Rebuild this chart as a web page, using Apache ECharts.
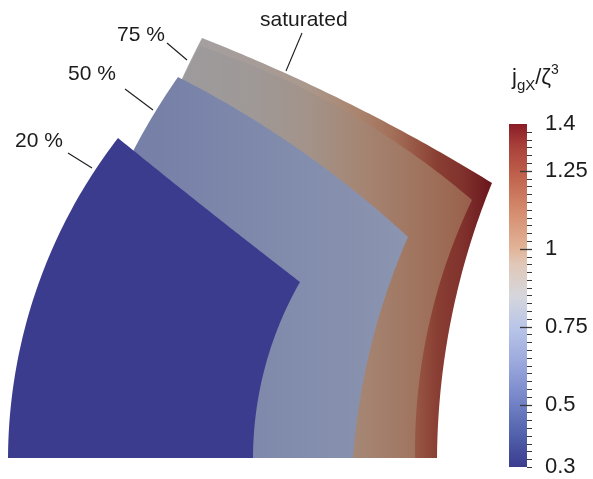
<!DOCTYPE html>
<html>
<head>
<meta charset="utf-8">
<script src="https://cdn.jsdelivr.net/npm/echarts@6/dist/echarts.min.js"></script>
<style>
  html, body { margin: 0; padding: 0; background: #ffffff; }
  #chart { width: 593px; height: 479px; }
</style>
</head>
<body>
<div id="chart"></div>
<script>
// Colour scale for j_gX/zeta^3: value -> colour
const scaleValues = [0.30, 0.40, 0.50, 0.625, 0.75, 0.85, 0.95, 1.00, 1.125, 1.25, 1.33, 1.40];
const scaleColors = ['#3b3c8e', '#5060aa', '#7080c4', '#98a6dc', '#bac6e8', '#d6d6dc',
                     '#e0c8b8', '#e2b498', '#d48a6c', '#bc5c48', '#a8403a', '#8a1c26'];
const barLabels = [0.3, 0.5, 0.75, 1, 1.25, 1.4];
const barMajorTicks = [0.5, 0.75, 1, 1.25];
const barMinorStep = 0.025;

// Field samples across each section: x position (section units) and j_gX/zeta^3
const x20  = [0.0, 1.0, 2.0, 2.92];
const j20  = [0.30, 0.30, 0.30, 0.30];
const x50  = [1.0, 1.5, 2.0, 2.5, 3.0, 3.5, 4.0];
const j50  = [0.63, 0.64, 0.66, 0.68, 0.70, 0.72, 0.74];
const x75  = [1.5, 2.0, 2.5, 3.0, 3.5, 4.0, 4.5, 4.64];
const j75  = [0.86, 0.87, 0.89, 0.94, 0.99, 1.05, 1.12, 1.15];
const xSat = [1.5, 2.0, 2.5, 3.0, 3.5, 3.85, 4.1, 4.3, 4.55, 4.85];
const jSat = [0.87, 0.88, 0.91, 0.95, 1.02, 1.10, 1.20, 1.28, 1.33, 1.40];

// Section outlines: outer arc, top edge, inner arc, each as [start, through, end]
const outline20  = [[[0.00, 0.00], [0.25, 1.58], [1.10, 3.20]],
                    [[1.10, 3.20], [2.01, 2.47], [2.92, 1.76]],
                    [[2.92, 1.76], [2.59, 0.98], [2.45, 0.00]]];
const outline50  = [[[0.50, 0.00], [0.69, 1.58], [1.70, 3.81]],
                    [[1.70, 3.81], [2.62, 3.28], [4.00, 2.21]],
                    [[4.00, 2.21], [3.62, 1.08], [3.45, 0.00]]];
const outline75  = [[[0.92, 0.00], [1.44, 3.08], [1.92, 4.12]],
                    [[1.92, 4.12], [3.32, 3.50], [4.64, 2.58]],
                    [[4.64, 2.58], [4.22, 1.38], [4.07, 0.00]]];
const outlineSat = [[[0.97, 0.00], [1.47, 3.13], [1.94, 4.20]],
                    [[1.94, 4.20], [3.32, 3.59], [4.84, 2.75]],
                    [[4.84, 2.75], [4.43, 1.38], [4.29, 0.00]]];

// Layer labels with their leader lines
const labelText  = ['20 %', '50 %', '75 %', 'saturated'];
const labelAt    = [[0.07, 3.17], [0.60, 3.84], [1.09, 4.23], [2.52, 4.38]];
const leaderFrom = [[0.60, 3.05], [1.17, 3.69], [1.59, 4.15], [2.94, 4.25]];
const leaderTo   = [[0.84, 2.90], [1.45, 3.48], [1.79, 3.98], [2.78, 3.87]];

// drawing order: back to front; shade = diffuse lighting of each face
const layers = [
  { outline: outlineSat, xs: xSat, field: jSat, shade: 0.76 },
  { outline: outline75,  xs: x75,  field: j75,  shade: 0.73 },
  { outline: outline50,  xs: x50,  field: j50,  shade: 0.76 },
  { outline: outline20,  xs: x20,  field: j20,  shade: 1.0 }
];

const FONT = '"Liberation Sans", Arial, Helvetica, sans-serif';
const TEXT = '#1c1c1c';
const TICK = '#3a3a3a';

function hexRgb(h) {
  return [parseInt(h.slice(1, 3), 16), parseInt(h.slice(3, 5), 16), parseInt(h.slice(5, 7), 16)];
}
const scaleRgb = scaleColors.map(hexRgb);

function colourOf(v) {
  if (v <= scaleValues[0]) return scaleRgb[0];
  const n = scaleValues.length;
  if (v >= scaleValues[n - 1]) return scaleRgb[n - 1];
  for (let i = 1; i < n; i++) {
    if (v <= scaleValues[i]) {
      const t = (v - scaleValues[i - 1]) / (scaleValues[i] - scaleValues[i - 1]);
      const a = scaleRgb[i - 1], b = scaleRgb[i];
      return [a[0] + (b[0] - a[0]) * t, a[1] + (b[1] - a[1]) * t, a[2] + (b[2] - a[2]) * t];
    }
  }
}
function toCss(rgb, k) {
  return 'rgb(' + rgb.map(c => Math.round(Math.min(255, c * k))).join(',') + ')';
}

// points on the circle through three points, from a to c via b
function arcThrough(a, b, c, n) {
  const [ax, ay] = a, [bx, by] = b, [cx, cy] = c;
  const d = 2 * (ax * (by - cy) + bx * (cy - ay) + cx * (ay - by));
  if (Math.abs(d) < 1e-6) return [a, c];
  const a2 = ax * ax + ay * ay, b2 = bx * bx + by * by, c2 = cx * cx + cy * cy;
  const ux = (a2 * (by - cy) + b2 * (cy - ay) + c2 * (ay - by)) / d;
  const uy = (a2 * (cx - bx) + b2 * (ax - cx) + c2 * (bx - ax)) / d;
  const r = Math.hypot(ax - ux, ay - uy);
  const norm = t => { while (t <= -Math.PI) t += 2 * Math.PI; while (t > Math.PI) t -= 2 * Math.PI; return t; };
  const t0 = Math.atan2(ay - uy, ax - ux);
  const d1 = norm(Math.atan2(by - uy, bx - ux) - t0);
  let d2 = norm(Math.atan2(cy - uy, cx - ux) - t0);
  const inside = d2 > 0 ? (d1 >= 0 && d1 <= d2) : (d1 <= 0 && d1 >= d2);
  if (!inside) d2 = d2 > 0 ? d2 - 2 * Math.PI : d2 + 2 * Math.PI;
  const pts = [];
  for (let i = 0; i <= n; i++) {
    const t = t0 + d2 * i / n;
    pts.push([ux + r * Math.cos(t), uy + r * Math.sin(t)]);
  }
  return pts;
}

function renderLayer(params, api) {
  const layer = layers[params.dataIndex];
  let pts = [];
  layer.outline.forEach(edge => {
    const p = edge.map(q => api.coord(q));
    pts = pts.concat(arcThrough(p[0], p[1], p[2], 60));
  });
  const px = layer.xs.map(x => api.coord([x, 0])[0]);
  const x0 = px[0], x1 = px[px.length - 1];
  const stops = layer.field.map((v, i) => ({
    offset: (px[i] - x0) / (x1 - x0),
    color: toCss(colourOf(v), layer.shade)
  }));
  return {
    type: 'polygon',
    shape: { points: pts },
    style: { fill: new echarts.graphic.LinearGradient(x0, 0, x1, 0, stops, true) }
  };
}

function renderLabel(params, api) {
  const i = params.dataIndex;
  const t = api.coord(labelAt[i]);
  const p0 = api.coord(leaderFrom[i]);
  const p1 = api.coord(leaderTo[i]);
  return {
    type: 'group',
    children: [
      { type: 'line', shape: { x1: p0[0], y1: p0[1], x2: p1[0], y2: p1[1] },
        style: { stroke: TEXT, lineWidth: 1.1 } },
      { type: 'text', style: { text: labelText[i], x: t[0], y: t[1], fill: TEXT,
        fontSize: 21, fontFamily: FONT, align: 'left', verticalAlign: 'middle' } }
    ]
  };
}

// colour bar with its minor and major ticks
function renderBar(params, api) {
  const lo = scaleValues[0], hi = scaleValues[scaleValues.length - 1], span = hi - lo;
  const top = api.coord([0, hi]);
  const bot = api.coord([1, lo]);
  const right = bot[0];
  const stops = scaleValues.map((v, i) => ({ offset: (v - lo) / span, color: toCss(scaleRgb[i], 1) }));
  const children = [{
    type: 'rect',
    shape: { x: top[0], y: top[1], width: bot[0] - top[0], height: bot[1] - top[1] },
    style: { fill: new echarts.graphic.LinearGradient(0, 1, 0, 0, stops) }
  }];
  const steps = Math.round(span / barMinorStep);
  for (let k = 0; k < steps; k++) {
    const y = Math.round(api.coord([0, lo + k * barMinorStep])[1]) + 0.5;
    children.push({ type: 'line', shape: { x1: right, y1: y, x2: right + 5, y2: y },
                    style: { stroke: TICK, lineWidth: 1 } });
  }
  barMajorTicks.forEach(v => {
    const y = Math.round(api.coord([0, v])[1]) + 0.5;
    children.push({ type: 'line', shape: { x1: right - 7, y1: y, x2: right + 5, y2: y },
                    style: { stroke: TICK, lineWidth: 1.3 } });
  });
  return { type: 'group', children };
}

const chart = echarts.init(document.getElementById('chart'), null, { renderer: 'canvas' });
chart.setOption({
  backgroundColor: '#ffffff',
  animation: false,
  title: {
    text: '{m|j}{s|gX}{m|/ζ}{p|3}',
    left: 512, top: 63, padding: 0,
    textStyle: {
      fontWeight: 'normal',
      rich: {
        m: { fontSize: 22, fontWeight: 'normal', fontFamily: FONT, color: TEXT, lineHeight: 30, verticalAlign: 'middle' },
        s: { fontSize: 15, fontWeight: 'normal', fontFamily: FONT, color: TEXT, lineHeight: 17, verticalAlign: 'bottom' },
        p: { fontSize: 14, fontWeight: 'normal', fontFamily: FONT, color: TEXT, lineHeight: 22, verticalAlign: 'top' }
      }
    }
  },
  grid: [
    { left: 8, top: 8, width: 500, height: 450 },
    { left: 509, top: 124, width: 18, height: 343 }
  ],
  xAxis: [
    { gridIndex: 0, type: 'value', min: 0, max: 5, show: false },
    { gridIndex: 1, type: 'value', min: 0, max: 1, show: false }
  ],
  yAxis: [
    { gridIndex: 0, type: 'value', min: 0, max: 4.5, show: false },
    { gridIndex: 1, type: 'value', min: 0.3, max: 1.4, position: 'right',
      axisLine: { show: false }, splitLine: { show: false }, axisTick: { show: false },
      axisLabel: { show: true, customValues: barLabels, margin: 18, fontSize: 22,
                   fontFamily: FONT, color: TEXT, formatter: v => String(v) } }
  ],
  series: [
    { type: 'custom', xAxisIndex: 0, yAxisIndex: 0, renderItem: renderLayer,
      data: layers.map((l, i) => [i]), silent: true, clip: false },
    { type: 'custom', xAxisIndex: 0, yAxisIndex: 0, renderItem: renderLabel,
      data: labelText.map((l, i) => [i]), silent: true, clip: false, z: 3 },
    { type: 'custom', xAxisIndex: 1, yAxisIndex: 1, renderItem: renderBar,
      data: [[0]], silent: true, clip: false, z: 1 }
  ]
});
</script>
</body>
</html>
